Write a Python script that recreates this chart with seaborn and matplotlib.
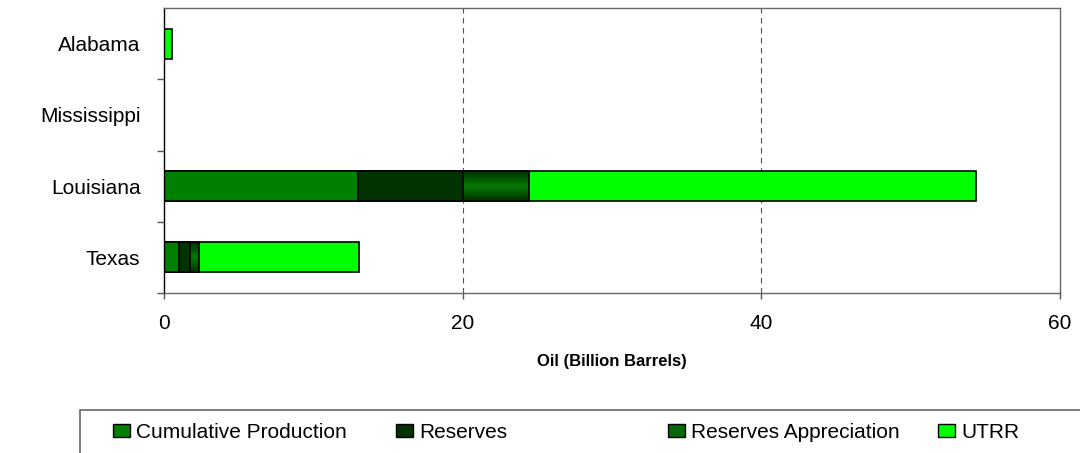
import matplotlib
matplotlib.use("Agg")
import matplotlib.pyplot as plt
import seaborn as sns
import pandas as pd
import numpy as np
from matplotlib.patches import Patch, Rectangle
from matplotlib.colors import LinearSegmentedColormap

# data (billion barrels)
states = ["Alabama", "Mississippi", "Louisiana", "Texas"]
cumulative_production = [0.0, 0.0, 13.0, 1.0]
reserves = [0.0, 0.0, 7.0, 0.75]
reserves_appreciation = [0.0, 0.0, 4.45, 0.6]
utrr = [0.55, 0.0, 29.95, 10.7]

series = ["Cumulative Production", "Reserves", "Reserves Appreciation", "UTRR"]
colors = ["#008000", "#003300", "#076807", "#00ff00"]

df = pd.DataFrame({"state": states,
                   series[0]: cumulative_production,
                   series[1]: reserves,
                   series[2]: reserves_appreciation,
                   series[3]: utrr})
stacked = df[series].cumsum(axis=1)
stacked["state"] = df["state"]

sns.set_style("white")
plt.rcParams["font.family"] = ["Liberation Sans", "DejaVu Sans"]
plt.rcParams["text.color"] = "black"
plt.rcParams["xtick.color"] = "black"
plt.rcParams["ytick.color"] = "black"
plt.rcParams["axes.labelcolor"] = "black"

fig = plt.figure(figsize=(10.8, 4.53), dpi=100)
ax = fig.add_axes([164 / 1080, 1 - 293 / 453, 896 / 1080, 285 / 453])

# draw totals first, then overlay the partial sums so the segments stack
layer_z = {"UTRR": 1.0, "Reserves Appreciation": 1.6, "Reserves": 2.0,
           "Cumulative Production": 2.1}
appr_patches = []
for name, col in reversed(list(zip(series, colors))):
    n0 = len(ax.patches)
    sns.barplot(data=stacked, x=name, y="state", order=states, color=col,
                orient="h", width=0.42, edgecolor="black", linewidth=1.2,
                saturation=1, ax=ax)
    new = ax.patches[n0:]
    for p in new:
        p.set_zorder(layer_z[name])
    if name == "Reserves Appreciation":
        appr_patches = new

# shaded fill for the appreciation segments (dark edges, lighter middle)
shade = LinearSegmentedColormap.from_list("appr", ["#003000", "#067a06", "#003000"])
grad = np.linspace(0, 1, 64).reshape(-1, 1)
for p in appr_patches:
    if p.get_width() <= 0:
        continue
    p.set_facecolor("none")
    x0, y0, w, h = p.get_x(), p.get_y(), p.get_width(), p.get_height()
    im = ax.imshow(grad, cmap=shade, aspect="auto", extent=(x0, x0 + w, y0 + h, y0),
                   zorder=1.5, interpolation="bicubic")
    im.set_clip_path(p)

ax.set_xlim(0, 60)
ax.set_ylim(3.5, -0.5)
ax.set_xticks([0, 20, 40, 60])
ax.set_xticklabels(["0", "20", "40", "60"], fontsize=15)
ax.set_yticks(range(len(states)))
ax.set_yticklabels(states, fontsize=15)
ax.set_yticks([0.5, 1.5, 2.5, 3.5], minor=True)
ax.tick_params(axis="y", which="major", left=False, length=0, pad=17)
ax.tick_params(axis="y", which="minor", left=True, length=5, width=1,
               direction="out", color="#555555")
ax.tick_params(axis="x", bottom=True, length=4, width=1, direction="out",
               color="#555555", pad=11)
ax.set_ylabel("")
ax.set_xlabel("Oil (Billion Barrels)", fontsize=12, fontweight="bold", labelpad=15)

for x in [20, 40]:
    ax.axvline(x, color="#555555", linestyle=(0, (5, 4)), linewidth=0.8, zorder=0.5)

for side, sp in ax.spines.items():
    sp.set_visible(True)
    sp.set_color("#666666")
    sp.set_linewidth(1)
ax.spines["left"].set_color("black")

# legend box running off the bottom-right of the figure
fig.patches.append(Rectangle((80 / 1080, -0.1), 1.0, 0.1 + (453 - 410) / 453,
                             transform=fig.transFigure, fill=False,
                             edgecolor="#666666", linewidth=1.2))
legend_x = [113, 396, 668, 938]
for s, c, lx in zip(series, colors, legend_x):
    leg = fig.legend(handles=[Patch(facecolor=c, edgecolor="black", label=s)],
                     loc="center left", frameon=False,
                     bbox_to_anchor=(lx / 1080, 1 - 432 / 453), fontsize=15,
                     handlelength=0.8, handleheight=0.6, handletextpad=0.3,
                     borderpad=0, borderaxespad=0)

fig.savefig("out.png", dpi=100)
